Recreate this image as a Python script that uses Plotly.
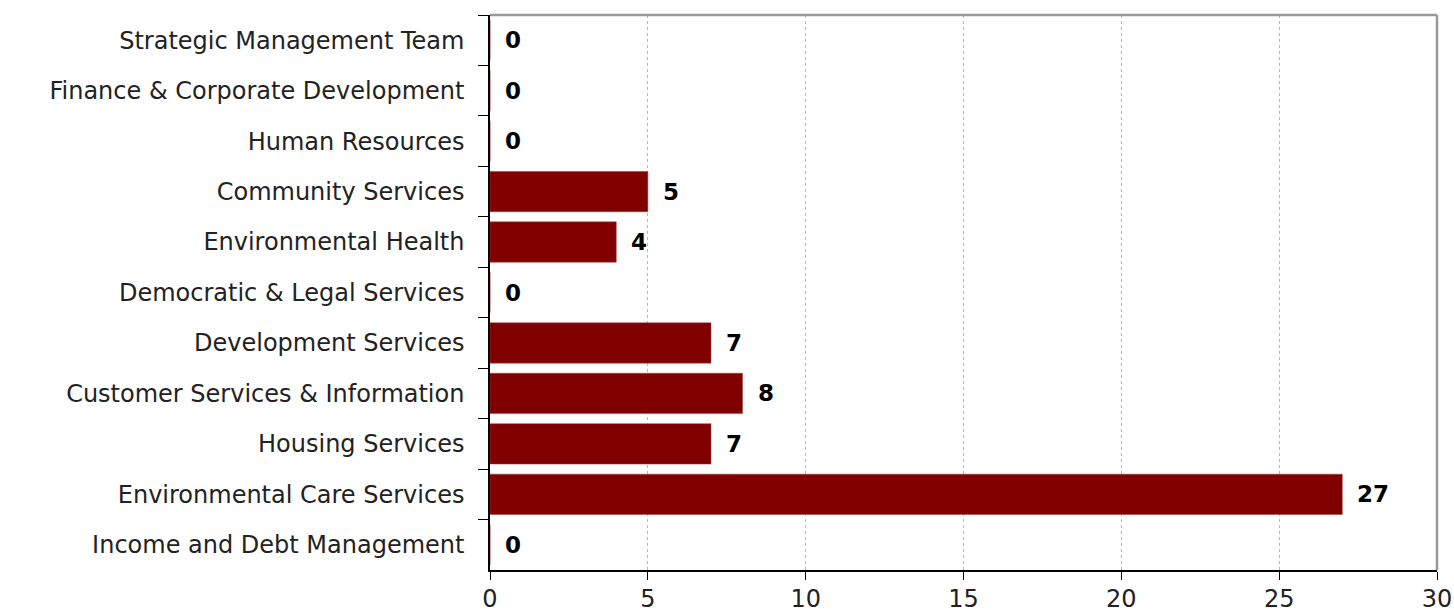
import plotly.graph_objects as go

categories = [
    "Strategic Management Team",
    "Finance & Corporate Development",
    "Human Resources",
    "Community Services",
    "Environmental Health",
    "Democratic & Legal Services",
    "Development Services",
    "Customer Services & Information",
    "Housing Services",
    "Environmental Care Services",
    "Income and Debt Management",
]
values = [0, 0, 0, 5, 4, 0, 7, 8, 7, 27, 0]
x_ticks = [0, 5, 10, 15, 20, 25, 30]

FONT = "DejaVu Sans, Verdana, sans-serif"

fig = go.Figure()
fig.add_trace(go.Bar(
    x=values, y=categories, orientation="h",
    marker=dict(color="#800000", line=dict(color="#a04040", width=0.5)),
    hoverinfo="skip",
))

for c, v in zip(categories, values):
    fig.add_annotation(
        x=v, y=c, text=f"<b>{v}</b>", showarrow=False,
        xanchor="left", xshift=13, yshift=0,
        font=dict(family=FONT, size=23, color="#000000"),
    )

fig.update_layout(
    width=1454, height=612,
    margin=dict(l=490, r=17, t=15, b=42),
    paper_bgcolor="white", plot_bgcolor="white",
    showlegend=False, bargap=0.2,
    font=dict(family=FONT, size=23, color="#000000"),
)
fig.update_xaxes(
    range=[0, 30], tickvals=x_ticks, automargin=False,
    showgrid=True, gridcolor="#b8b8b8", gridwidth=1, griddash="dot",
    showline=True, linecolor="#000000", linewidth=1.5,
    ticks="outside", ticklen=8, tickcolor="#000000",
    tickfont=dict(family=FONT, size=24, color="#222222"),
    ticklabelstandoff=-2,
    mirror=False, zeroline=False, fixedrange=True,
)
fig.update_yaxes(
    autorange="reversed", automargin=False,
    showline=True, linecolor="#000000", linewidth=1.5,
    ticks="outside", ticklen=10, tickcolor="#000000", tickson="boundaries",
    tickfont=dict(family=FONT, size=24, color="#222222"),
    showgrid=False, ticklabelstandoff=19,
)
# top and right gray border
fig.add_shape(type="line", xref="paper", yref="paper", x0=0, x1=1, y0=1, y1=1,
              line=dict(color="#999999", width=2.5))
fig.add_shape(type="line", xref="paper", yref="paper", x0=1, x1=1, y0=0, y1=1,
              line=dict(color="#999999", width=2.5))

fig.write_html(
    "out.html",
    config={"displayModeBar": False},
    post_script="document.body.style.margin='0';document.body.style.overflow='hidden';",
)
